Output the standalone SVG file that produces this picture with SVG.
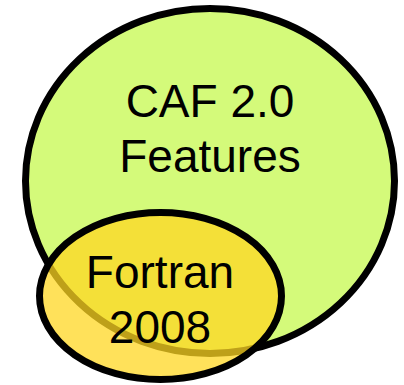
<svg xmlns="http://www.w3.org/2000/svg" width="404" height="385" viewBox="0 0 404 385">
  <style>
    .set { stroke: #000; stroke-width: 7; }
    .caf { fill: #d4fa7a; }
    .f08 { fill: #ffd722; fill-opacity: 0.745; }
    .lbl { font-family: "Liberation Sans", Arial, sans-serif; font-size: 46px; fill: #000; text-anchor: middle; }
  </style>
  <rect width="404" height="385" fill="#fff"/>
  <g id="caf20">
    <ellipse class="set caf" cx="210" cy="181" rx="184.5" ry="172.5"/>
    <text class="lbl" x="210" y="117">CAF 2.0</text>
    <text class="lbl" x="210" y="172">Features</text>
  </g>
  <g id="fortran2008">
    <ellipse class="set f08" cx="160.5" cy="296" rx="121" ry="83.5"/>
    <text class="lbl" x="160" y="288">Fortran</text>
    <text class="lbl" x="160" y="343">2008</text>
  </g>
</svg>
